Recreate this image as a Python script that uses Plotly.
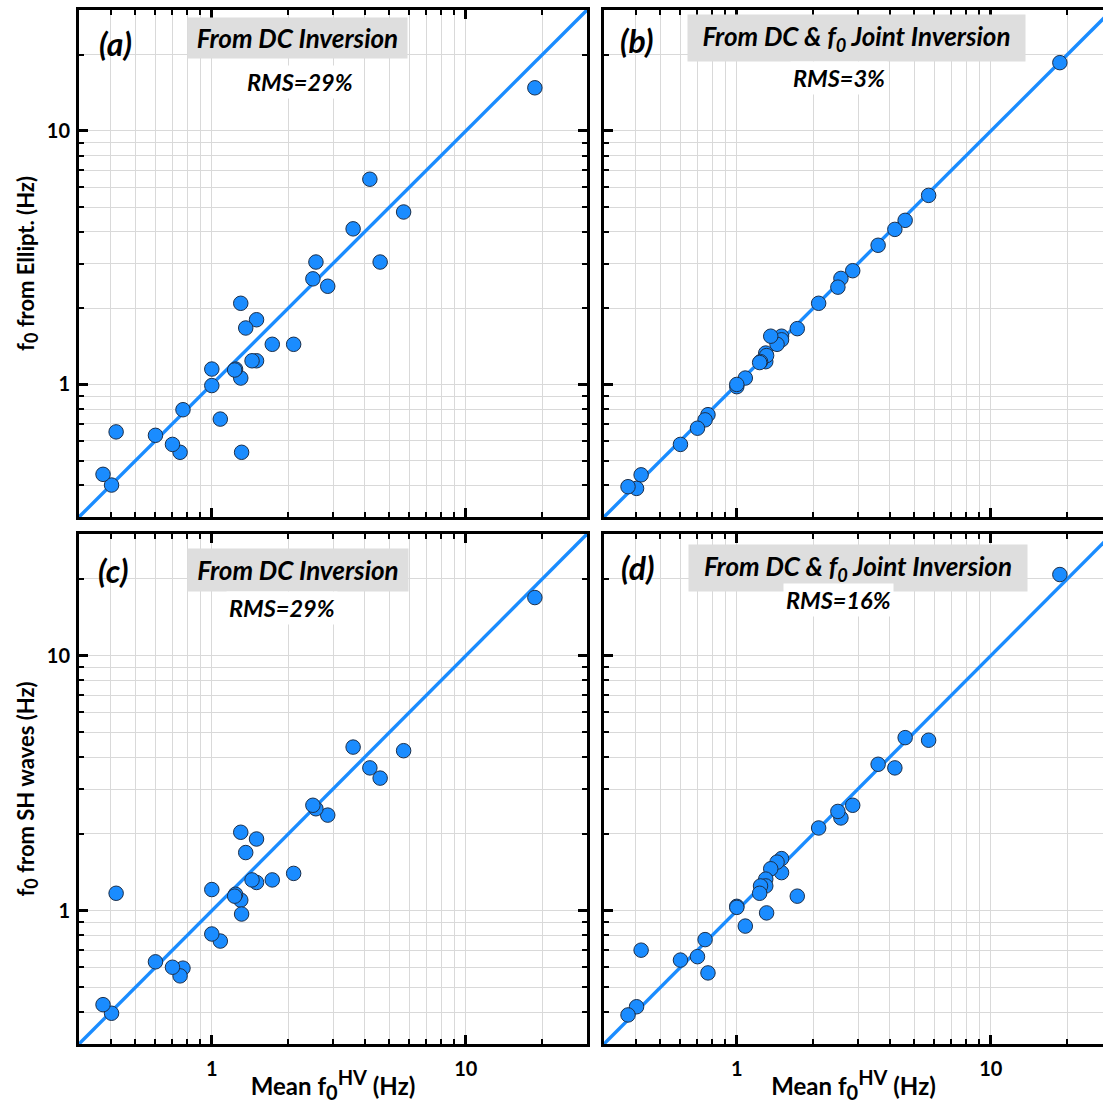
import plotly.graph_objects as go
import math

# ---------------- data ----------------
mean_f0_hv = [18.7, 5.69, 4.60, 4.19, 3.60, 2.86, 2.57, 2.50, 2.10, 1.73,
              1.50, 1.50, 1.44, 1.36, 1.30, 1.30, 1.31, 1.24, 1.23, 1.08,
              1.00, 1.00, 0.77, 0.75, 0.70, 0.60, 0.42, 0.403, 0.373]

f0_ellipt_dc = [14.8, 4.79, 3.04, 6.45, 4.11, 2.44, 3.04, 2.61, 1.44, 1.44,
                1.80, 1.24, 1.24, 1.67, 2.09, 1.06, 0.54, 1.15, 1.14, 0.73,
                1.15, 0.99, 0.795, 0.54, 0.58, 0.63, 0.65, 0.401, 0.442]

f0_ellipt_joint = [18.6, 5.57, 4.44, 4.09, 3.54, 2.81, 2.62, 2.42, 2.09, 1.66,
                   1.55, 1.50, 1.44, 1.55, 1.33, 1.23, 1.30, 1.23, 1.22, 1.06,
                   0.98, 1.00, 0.76, 0.725, 0.672, 0.58, 0.44, 0.389, 0.395]

f0_sh_dc = [16.9, 4.24, 3.31, 3.63, 4.38, 2.37, 2.51, 2.59, 1.40, 1.32,
            1.91, 1.29, 1.32, 1.69, 2.03, 1.10, 0.97, 1.16, 1.14, 0.76,
            1.21, 0.81, 0.595, 0.555, 0.60, 0.63, 1.17, 0.396, 0.428]

f0_sh_joint = [20.8, 4.66, 4.77, 3.63, 3.75, 2.59, 2.31, 2.45, 2.11, 1.14,
               1.60, 1.41, 1.55, 1.46, 1.33, 1.25, 0.98, 1.25, 1.17, 0.87,
               1.04, 1.03, 0.57, 0.77, 0.66, 0.64, 0.70, 0.42, 0.39]

one_to_one = [0.3, 30]

panel_letters = ["(a)", "(b)", "(c)", "(d)"]
panel_titles = ["From DC Inversion", "From DC &amp; f<sub>0</sub> Joint Inversion",
                "From DC Inversion", "From DC &amp; f<sub>0</sub> Joint Inversion"]
panel_rms = ["RMS=29%", "RMS=3%", "RMS=29%", "RMS=16%"]
x_title = ("Mean f<sub><span style='font-size:20px'>0</span></sub>"
           "<sup><span style='font-size:20px'>HV</span></sup> (Hz)")
y_titles = ["f<sub><span style='font-size:18px'>0</span></sub> from Ellipt. (Hz)",
            "f<sub><span style='font-size:18px'>0</span></sub> from SH waves (Hz)"]

# ---------------- layout helpers ----------------
W, H = 1103, 1106
FONT = "Lato"
BLUE = "#1a8cff"
GRID = "#d9d9d9"


def px(x):
    return x / W


def py(y):
    return 1 - y / H


fig = go.Figure()

series = [f0_ellipt_dc, f0_ellipt_joint, f0_sh_dc, f0_sh_joint]
for i, ys in enumerate(series):
    suf = "" if i == 0 else str(i + 1)
    fig.add_trace(go.Scatter(x=one_to_one, y=one_to_one, mode="lines",
                             line=dict(color=BLUE, width=3.4),
                             xaxis="x" + suf, yaxis="y" + suf,
                             hoverinfo="skip", showlegend=False))
    fig.add_trace(go.Scatter(x=mean_f0_hv, y=ys, mode="markers",
                             marker=dict(size=14.5, color=BLUE,
                                         line=dict(color="#1c2f4a", width=1)),
                             xaxis="x" + suf, yaxis="y" + suf,
                             showlegend=False))

lo = math.log10(0.3)
left_dom = [px(79), px(587)]
right_dom = [px(604), 1.0]
right_hi = lo + (W - 604) / 254.0
top_dom = [py(517), py(10)]
bot_dom = [py(1044), py(534)]

tickfont = dict(family=FONT, size=20, color="black", weight="bold")
xtitlefont = dict(family=FONT, size=24, color="black", weight="bold")
ytitlefont = dict(family=FONT, size=22, color="black", weight="bold")


def axis_common():
    return dict(type="log", dtick=1, showline=True, linecolor="black",
                linewidth=3, ticks="inside", ticklen=9, tickwidth=2.5,
                tickcolor="black", showgrid=True, gridcolor=GRID, gridwidth=1.3,
                zeroline=False, automargin=False, tickfont=tickfont,
                minor=dict(ticks="inside", ticklen=5, tickwidth=2,
                           tickcolor="black", showgrid=True, gridcolor=GRID,
                           gridwidth=1.1))


layout = dict(width=W, height=H, margin=dict(l=0, r=0, t=0, b=0),
              paper_bgcolor="white", plot_bgcolor="white", showlegend=False)

cfg = [  # (xdomain, ydomain, xrange_hi, bottom?, left?)
    (left_dom, top_dom, math.log10(30), False, True),
    (right_dom, top_dom, right_hi, False, False),
    (left_dom, bot_dom, math.log10(30), True, True),
    (right_dom, bot_dom, right_hi, True, False),
]
for i, (xd, yd, xhi, bottom, left) in enumerate(cfg):
    suf = "" if i == 0 else str(i + 1)
    xa = axis_common()
    xa.update(domain=xd, range=[lo, xhi], anchor="y" + suf,
              mirror="allticks", showticklabels=bottom,
              ticklabelstandoff=5)
    if bottom:
        xa["title"] = dict(text=x_title, font=xtitlefont, standoff=0)
    ya = axis_common()
    ya.update(domain=yd, range=[lo, math.log10(30)], anchor="x" + suf,
              mirror="allticks" if left else False, showticklabels=left,
              ticklabelstandoff=2)
    if left:
        ya["title"] = dict(text=y_titles[0 if i == 0 else 1], font=ytitlefont,
                           standoff=7)
    layout["xaxis" + suf] = xa
    layout["yaxis" + suf] = ya

fig.update_layout(**layout)

# ---------------- text annotations ----------------
letter_pos = [(115, 43), (636, 40), (113, 570), (637, 567)]
box_pos = [(297.5, 38, 213, 34), (856.5, 38, 331, 40),
           (298, 570, 214, 36), (858, 568, 332, 40)]
rms_pos = [(300, 82), (839, 78), (282, 608), (838, 600)]

lab_font = dict(family=FONT, size=32, color="black", weight="bold", style="italic")
box_font = dict(family=FONT, size=26, color="black", weight="bold", style="italic")
rms_font = dict(family=FONT, size=23.5, color="black", weight="bold", style="italic")

for i in range(4):
    lx, ly = letter_pos[i]
    fig.add_annotation(x=px(lx), y=py(ly), xref="paper", yref="paper",
                       text=panel_letters[i], showarrow=False,
                       xanchor="center", yanchor="middle", font=lab_font)
    bx, by, bw, bh = box_pos[i]
    fig.add_annotation(x=px(bx), y=py(by), xref="paper", yref="paper",
                       text=panel_titles[i], showarrow=False,
                       xanchor="center", yanchor="middle", font=box_font,
                       bgcolor="#dedede", borderpad=3, width=bw, height=bh)
    rx, ry = rms_pos[i]
    fig.add_annotation(x=px(rx), y=py(ry), xref="paper", yref="paper",
                       text=panel_rms[i], showarrow=False,
                       xanchor="center", yanchor="middle", font=rms_font,
                       bgcolor="white", borderpad=2)

fig.write_html("out.html")
